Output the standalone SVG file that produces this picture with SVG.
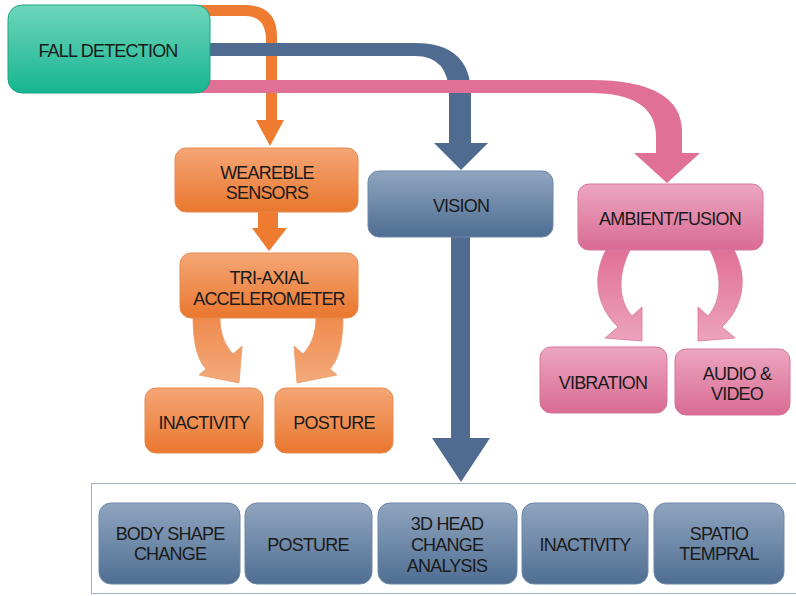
<svg xmlns="http://www.w3.org/2000/svg" width="796" height="596" viewBox="0 0 796 596">
<style>
text{font-family:"Liberation Sans",Arial,sans-serif;font-size:18px;fill:#1a1a1a;text-anchor:middle;letter-spacing:-0.8px}
.teal{fill:url(#gTeal);stroke:#1aa585;stroke-width:1}
.org{fill:url(#gOrg);stroke:#e48a50;stroke-width:1}
.blu{fill:url(#gBlu);stroke:#6d87a8;stroke-width:1}
.pnk{fill:url(#gPnk);stroke:#d4779b;stroke-width:1}
.aOrg{fill:#ee7b30}
.aBlu{fill:#4f6b90}
.aPnk{fill:#e07095}
.cOrg{fill:url(#gOrgL);stroke:#ee9a66;stroke-width:0.8}
.cPnk{fill:url(#gPnkL);stroke:#d7779c;stroke-width:0.8}
</style>
<defs>
<linearGradient id="gTeal" x1="0" y1="0" x2="0" y2="1"><stop offset="0" stop-color="#6fd6ba"/><stop offset="1" stop-color="#17b591"/></linearGradient>
<linearGradient id="gOrg" x1="0" y1="0" x2="0" y2="1"><stop offset="0" stop-color="#f5a676"/><stop offset="1" stop-color="#e9772e"/></linearGradient>
<linearGradient id="gBlu" x1="0" y1="0" x2="0" y2="1"><stop offset="0" stop-color="#90a5bf"/><stop offset="1" stop-color="#4f6e92"/></linearGradient>
<linearGradient id="gPnk" x1="0" y1="0" x2="0" y2="1"><stop offset="0" stop-color="#eca6bf"/><stop offset="1" stop-color="#d96b93"/></linearGradient>
<linearGradient id="gOrgL" x1="0" y1="0" x2="0" y2="1"><stop offset="0" stop-color="#ef8a4c"/><stop offset="1" stop-color="#f3aa7c"/></linearGradient>
<linearGradient id="gPnkL" x1="0" y1="0" x2="0" y2="1"><stop offset="0" stop-color="#e06f95"/><stop offset="1" stop-color="#eda3bd"/></linearGradient>
</defs>
<rect width="796" height="596" fill="#ffffff"/>

<g id="connectors">
<path class="aOrg" d="M180 5 L245 5 Q277 5 277 37 L277 120 L284 120 L270 146 L256 120 L266 120 L266 40 Q266 16 245 16 L180 16 Z"/>
<path class="aBlu" d="M190 43 L415 43 Q471 43 471 95 L471 143 L488 143 L461 170 L434 143 L449 143 L449 95 Q449 56 415 56 L190 56 Z"/>
<path class="aPnk" d="M190 80 L590 80 Q682 80 682 132 L682 153 L700 153 L667 183 L634 153 L656 153 L656 137 Q656 93 590 93 L190 93 Z"/>
<path class="aOrg" d="M258 210 L278 210 L278 228 L287 228 L269 251 L252 228 L258 228 Z"/>
<path class="aBlu" d="M451 235 L470 235 L470 438 L490 438 L461 482 L432 438 L451 438 Z"/>
<path class="cOrg" d="M193 316 C193 345 198 360 206 369 L199 375 L239 383 L242 346 L233 354 C225 345 220 335 220 316 Z"/>
<path class="cOrg" d="M343 316 C343 345 338 360 330 369 L337 375 L297 383 L294 346 L303 354 C311 345 316 335 316 316 Z"/>
<path class="cPnk" d="M607 248 C592 275 595 305 618 327 L605 338 L642 341 L642 307 L632 316 C618 300 617 275 631 248 Z"/>
<path class="cPnk" d="M733 248 C748 275 745 305 722 327 L735 338 L698 341 L698 307 L708 316 C722 300 723 275 709 248 Z"/>
</g>

<g id="fall-detection">
<rect class="teal" x="8" y="5" width="202" height="88" rx="14"/>
<text x="108" y="56.5">FALL DETECTION</text>
</g>

<g id="wearable-sensors">
<rect class="org" x="175" y="148" width="183" height="64" rx="11"/>
<text x="267" y="178.5">WEAREBLE</text>
<text x="267" y="198.5">SENSORS</text>
</g>

<g id="tri-axial">
<rect class="org" x="180" y="253" width="178" height="65" rx="11"/>
<text x="269" y="283.5">TRI-AXIAL</text>
<text x="269" y="304.5">ACCELEROMETER</text>
</g>

<g id="w-inactivity">
<rect class="org" x="145" y="388" width="118" height="65" rx="11"/>
<text x="204" y="428.5">INACTIVITY</text>
</g>

<g id="w-posture">
<rect class="org" x="275" y="388" width="118" height="65" rx="11"/>
<text x="334" y="428.5">POSTURE</text>
</g>

<g id="vision">
<rect class="blu" x="368" y="171" width="185" height="66" rx="11"/>
<text x="461" y="211.5">VISION</text>
</g>

<g id="ambient">
<rect class="pnk" x="578" y="184" width="185" height="66" rx="11"/>
<text x="670" y="224.5">AMBIENT/FUSION</text>
</g>

<g id="vibration">
<rect class="pnk" x="540" y="347" width="127" height="66" rx="11"/>
<text x="603" y="388.5">VIBRATION</text>
</g>

<g id="audio-video">
<rect class="pnk" x="675" y="349" width="115" height="66" rx="11"/>
<text x="737" y="379.5">AUDIO &amp;</text>
<text x="737" y="399.5">VIDEO</text>
</g>

<g id="vision-methods">
<rect x="91.5" y="483.5" width="720" height="110" fill="none" stroke="#9db0c9" stroke-width="1"/>
</g>

<g id="body-shape">
<rect class="blu" x="99" y="503" width="141" height="81" rx="12"/>
<text x="170" y="539.5">BODY SHAPE</text>
<text x="170" y="559.5">CHANGE</text>
</g>

<g id="v-posture">
<rect class="blu" x="245" y="503" width="127" height="81" rx="12"/>
<text x="308" y="550.5">POSTURE</text>
</g>

<g id="head-3d">
<rect class="blu" x="378" y="503" width="139" height="81" rx="12"/>
<text x="447" y="529.5">3D HEAD</text>
<text x="447" y="550.5">CHANGE</text>
<text x="447" y="571.5">ANALYSIS</text>
</g>

<g id="v-inactivity">
<rect class="blu" x="522" y="503" width="126" height="81" rx="12"/>
<text x="585" y="550.5">INACTIVITY</text>
</g>

<g id="spatio">
<rect class="blu" x="654" y="503" width="130" height="81" rx="12"/>
<text x="719" y="539.5">SPATIO</text>
<text x="719" y="559.5">TEMPRAL</text>
</g>
</svg>
